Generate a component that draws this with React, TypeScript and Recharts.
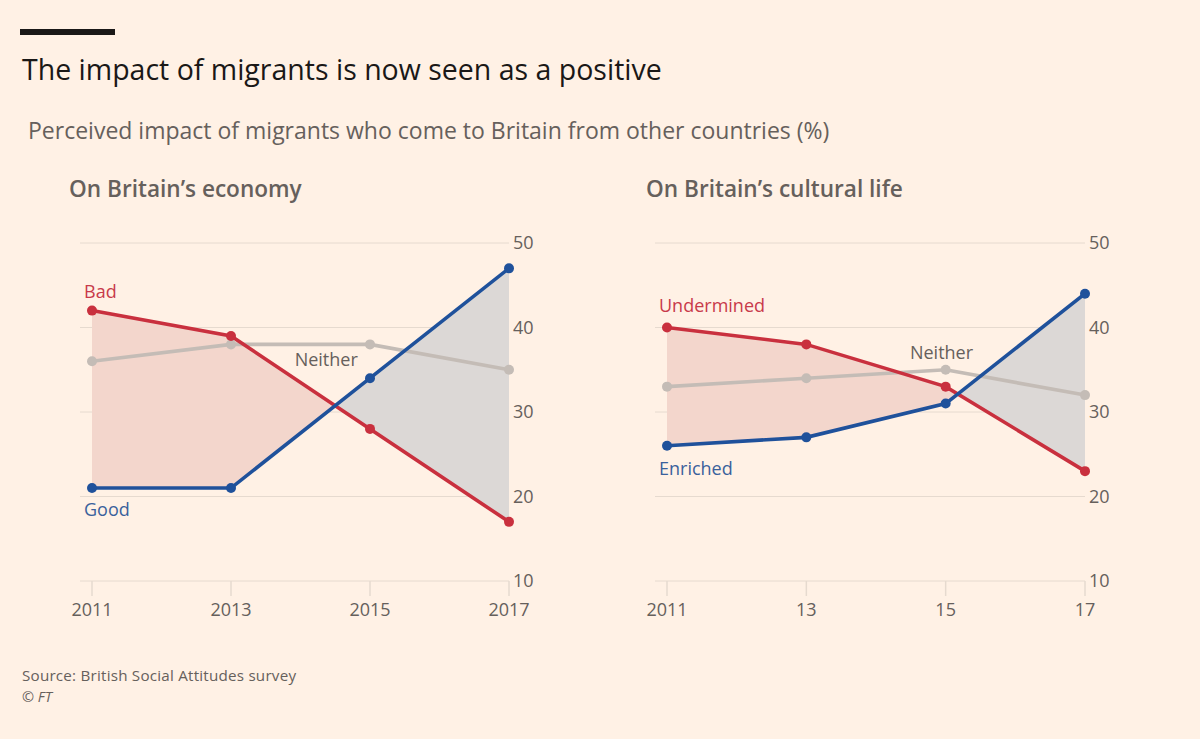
import React from 'react';
import { ComposedChart, Line, Area, XAxis, YAxis, CartesianGrid, ReferenceDot } from 'recharts';

const years = [2011, 2013, 2015, 2017];
const economyBad = [42, 39, 28, 17];
const economyGood = [21, 21, 34, 47];
const economyNeither = [36, 38, 38, 35];
const cultureUndermined = [40, 38, 33, 23];
const cultureEnriched = [26, 27, 31, 44];
const cultureNeither = [33, 34, 35, 32];
const yTicks = [10, 20, 30, 40, 50];
const economyXTickLabels = ['2011', '2013', '2015', '2017'];
const cultureXTickLabels = ['2011', '13', '15', '17'];

type Ann = { text: string; year: number; value: number; series: 'neg' | 'pos' | 'neither'; align: 'start' | 'middle' };
const economyLabels: Ann[] = [
  { text: 'Bad', year: 2011, value: 43.5, series: 'neg', align: 'start' },
  { text: 'Good', year: 2011, value: 17.7, series: 'pos', align: 'start' },
  { text: 'Neither', year: 2014.37, value: 35.4, series: 'neither', align: 'middle' },
];
const cultureLabels: Ann[] = [
  { text: 'Undermined', year: 2011, value: 41.8, series: 'neg', align: 'start' },
  { text: 'Enriched', year: 2011, value: 22.5, series: 'pos', align: 'start' },
  { text: 'Neither', year: 2014.94, value: 36.3, series: 'neither', align: 'middle' },
];

const FONT = '"Open Sans", sans-serif';
const BG = '#fff1e5';
const GRID = '#e6dacf';
const TEXT = '#66605c';
const RED = '#c9303e';
const BLUE = '#1f519b';
const GREY = '#c4bcb6';
const RED_FILL = '#f3d6cc';
const GREY_FILL = '#dcd8d6';
const LABEL_COLORS = { neg: '#c83a4a', pos: '#3a619c', neither: TEXT };

function crossFraction(xs: number[], a: number[], b: number[]) {
  const span = xs[xs.length - 1] - xs[0];
  for (let i = 0; i < xs.length - 1; i++) {
    const d0 = a[i] - b[i];
    const d1 = a[i + 1] - b[i + 1];
    if (d0 * d1 < 0) {
      const t = d0 / (d0 - d1);
      const x = xs[i] + t * (xs[i + 1] - xs[i]);
      return (x - xs[0]) / span;
    }
  }
  return 1;
}

type PanelProps = {
  id: string;
  neg: number[];
  pos: number[];
  neither: number[];
  tickLabels: string[];
  labels: Ann[];
  left: number;
  marginRight: number;
};

function Panel({ id, neg, pos, neither, tickLabels, labels, left, marginRight }: PanelProps) {
  const data = years.map((year, i) => ({
    year,
    neg: neg[i],
    pos: pos[i],
    neither: neither[i],
    band: [pos[i], neg[i]],
  }));
  const f = crossFraction(years, neg, pos);
  return (
    <div style={{ position: 'absolute', left, top: 200 }}>
      <ComposedChart width={560} height={440} data={data} margin={{ top: 43, right: marginRight, bottom: 29, left: 80 }}>
        <defs>
          <linearGradient id={id} x1="0" y1="0" x2="1" y2="0">
            <stop offset={0} stopColor={RED_FILL} />
            <stop offset={f} stopColor={RED_FILL} />
            <stop offset={f} stopColor={GREY_FILL} />
            <stop offset={1} stopColor={GREY_FILL} />
          </linearGradient>
        </defs>
        <CartesianGrid vertical={false} stroke={GRID} strokeWidth={1} />
        <XAxis
          dataKey="year"
          type="number"
          domain={[2011, 2017]}
          ticks={years}
          interval={0}
          padding={{ left: 12, right: 0 }}
          axisLine={false}
          tickLine={{ stroke: GRID, strokeWidth: 1.5 }}
          tickSize={15}
          tickMargin={7}
          height={30}
          tick={{ fill: TEXT, fontSize: 18, fontFamily: FONT }}
          tickFormatter={(v: number) => tickLabels[years.indexOf(v)]}
        />
        <YAxis
          orientation="right"
          domain={[10, 50]}
          ticks={yTicks}
          interval={0}
          axisLine={false}
          tickLine={false}
          tickSize={0}
          tickMargin={4}
          width={40}
          tick={{ fill: TEXT, fontSize: 18, fontFamily: FONT, textAnchor: 'start' }}
        />
        <Area
          type="linear"
          dataKey="band"
          stroke="none"
          fill={`url(#${id})`}
          fillOpacity={1}
          isAnimationActive={false}
          activeDot={false}
        />
        <Line type="linear" dataKey="neither" stroke={GREY} strokeWidth={3.6} dot={{ r: 5, fill: GREY, stroke: GREY, strokeWidth: 0 }} activeDot={false} isAnimationActive={false} />
        <Line type="linear" dataKey="neg" stroke={RED} strokeWidth={3.6} dot={{ r: 5, fill: RED, stroke: RED, strokeWidth: 0 }} activeDot={false} isAnimationActive={false} />
        <Line type="linear" dataKey="pos" stroke={BLUE} strokeWidth={3.6} dot={{ r: 5, fill: BLUE, stroke: BLUE, strokeWidth: 0 }} activeDot={false} isAnimationActive={false} />
        {labels.map((a) => (
          <ReferenceDot
            key={a.text}
            x={a.year}
            y={a.value}
            r={0}
            ifOverflow="visible"
            shape={(p: any) => (
              <text
                x={p.cx + (a.align === 'start' ? -8 : 0)}
                y={p.cy}
                textAnchor={a.align}
                fill={LABEL_COLORS[a.series]}
                fontSize={18}
                fontFamily={FONT}
              >
                {a.text}
              </text>
            )}
          />
        ))}
      </ComposedChart>
    </div>
  );
}

export default function App() {
  return (
    <div style={{ position: 'absolute', left: 0, top: 0, width: 1200, height: 739, background: BG, overflow: 'hidden' }}>
      <svg width={1200} height={739} style={{ position: 'absolute', left: 0, top: 0 }}>
        <rect x={20} y={29} width={95} height={6} fill="#1a1817" />
        <text x={22} y={80} fontSize={28.5} fontFamily={FONT} fill="#1a1817">
          The impact of migrants is now seen as a positive
        </text>
        <text x={28} y={139} fontSize={23} fontFamily={FONT} fill={TEXT}>
          Perceived impact of migrants who come to Britain from other countries (%)
        </text>
        <text x={69} y={197} fontSize={22.6} fontWeight={600} fontFamily={FONT} fill={TEXT}>
          On Britain’s economy
        </text>
        <text x={646} y={197} fontSize={22.6} fontWeight={600} fontFamily={FONT} fill={TEXT}>
          On Britain’s cultural life
        </text>
        <text x={22} y={681} fontSize={15.2} fontFamily={FONT} fill={TEXT} textLength={274} lengthAdjust="spacing">
          Source: British Social Attitudes survey
        </text>
        <text x={22} y={702} fontSize={14.5} fontFamily={FONT} fill={TEXT}>
          © <tspan fontStyle="italic">FT</tspan>
        </text>
      </svg>
      <Panel id="gradEconomy" neg={economyBad} pos={economyGood} neither={economyNeither} tickLabels={economyXTickLabels} labels={economyLabels} left={0} marginRight={11} />
      <Panel id="gradCulture" neg={cultureUndermined} pos={cultureEnriched} neither={cultureNeither} tickLabels={cultureXTickLabels} labels={cultureLabels} left={575} marginRight={10} />
    </div>
  );
}
